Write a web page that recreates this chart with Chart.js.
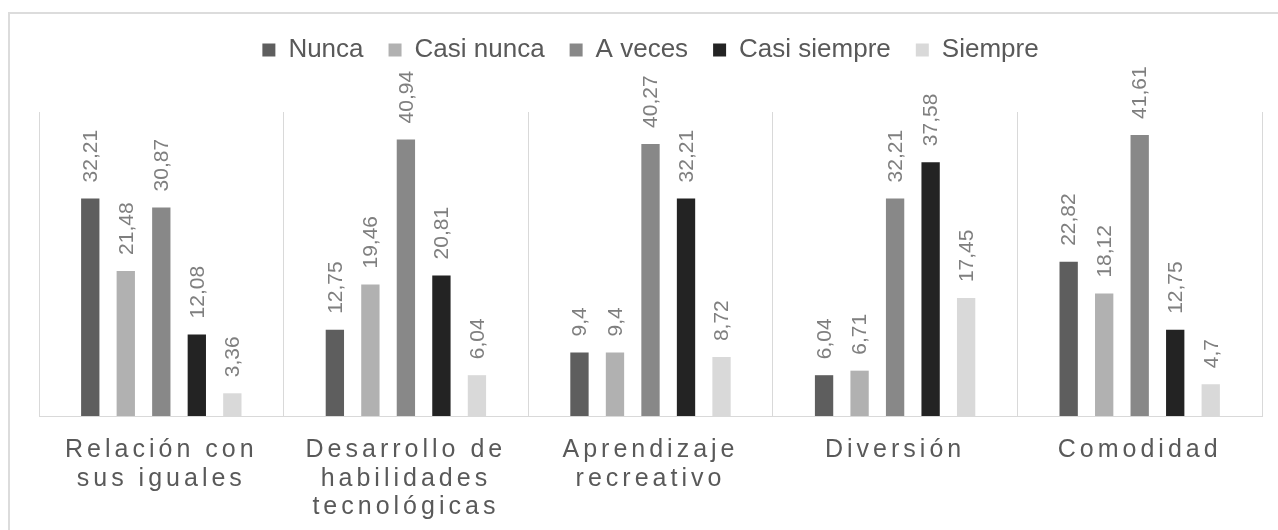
<!DOCTYPE html>
<html>
<head>
<meta charset="utf-8">
<script src="https://cdn.jsdelivr.net/npm/chart.js@4.4.1/dist/chart.umd.min.js"></script>
<style>
  html, body { margin: 0; padding: 0; background: #ffffff; overflow: hidden; }
  #frame { position: absolute; left: 8px; top: 12px; width: 3000px; height: 3000px;
           border: 2px solid #dcdcdc; box-sizing: border-box; }
  #wrap { position: absolute; left: 0; top: 0; width: 1278px; height: 530px; }
</style>
</head>
<body>
<div id="frame"></div>
<div id="wrap"><canvas id="c" width="1278" height="530"></canvas></div>
<script>
// ---- data ----
const categories = [
  ["Relación con", "sus iguales"],
  ["Desarrollo de", "habilidades", "tecnológicas"],
  ["Aprendizaje", "recreativo"],
  ["Diversión"],
  ["Comodidad"]
];
const seriesNames = ["Nunca", "Casi nunca", "A veces", "Casi siempre", "Siempre"];
const nunca       = [32.21, 12.75, 9.4, 6.04, 22.82];
const casiNunca   = [21.48, 19.46, 9.4, 6.71, 18.12];
const aVeces      = [30.87, 40.94, 40.27, 32.21, 41.61];
const casiSiempre = [12.08, 20.81, 32.21, 37.58, 12.75];
const siempre     = [3.36, 6.04, 8.72, 17.45, 4.7];
const seriesColors = ["#5e5e5e", "#b1b1b1", "#888888", "#232323", "#d9d9d9"];
const yMin = 0, yMax = 45;

const FONT = '"Liberation Sans", Arial, Helvetica, sans-serif';

// category scale with letter-spaced labels
class SpacedCategoryScale extends Chart.CategoryScale {
  drawLabels(area) {
    const ctx = this.ctx;
    ctx.save();
    ctx.letterSpacing = '4px';
    super.drawLabels(area);
    ctx.letterSpacing = '0px';
    ctx.restore();
  }
}
SpacedCategoryScale.id = 'spacedCategory';
SpacedCategoryScale.defaults = Chart.CategoryScale.defaults;
Chart.register(SpacedCategoryScale);

const legendGap = {
  id: 'legendGap',
  beforeInit(chart) {
    const orig = chart.legend.fit;
    chart.legend.fit = function () { orig.call(this); this.height += 39; };
  }
};

const barValueLabels = {
  id: 'barValueLabels',
  afterDatasetsDraw(chart) {
    const ctx = chart.ctx;
    ctx.save();
    ctx.font = '21px ' + FONT;
    ctx.fillStyle = '#7f7f7f';
    ctx.textAlign = 'left';
    ctx.textBaseline = 'middle';
    chart.data.datasets.forEach((ds, i) => {
      chart.getDatasetMeta(i).data.forEach((bar, j) => {
        const text = String(ds.data[j]).replace('.', ',');
        ctx.save();
        ctx.translate(bar.x, bar.y - 16);
        ctx.rotate(-Math.PI / 2);
        ctx.fillText(text, 0, 1);
        ctx.restore();
      });
    });
    ctx.restore();
  }
};

const allSeries = [nunca, casiNunca, aVeces, casiSiempre, siempre];

new Chart(document.getElementById('c'), {
  type: 'bar',
  data: {
    labels: categories,
    datasets: allSeries.map((d, i) => ({
      label: seriesNames[i],
      data: d,
      backgroundColor: seriesColors[i],
      borderWidth: 0,
      categoryPercentage: 0.726,
      barPercentage: 0.516
    }))
  },
  options: {
    responsive: false,
    animation: false,
    layout: { padding: { left: 39, right: 16, top: 12, bottom: 0 } },
    plugins: {
      legend: {
        position: 'top',
        labels: {
          color: '#595959',
          font: { family: FONT, size: 26 },
          boxWidth: 13,
          boxHeight: 13,
          padding: 25
        }
      },
      tooltip: { enabled: false }
    },
    scales: {
      x: {
        type: 'spacedCategory',
        offset: true,
        grid: { display: true, offset: true, color: '#d9d9d9', lineWidth: 1, drawTicks: false },
        border: { display: true, color: '#d9d9d9', width: 1 },
        ticks: {
          color: '#595959',
          font: { family: FONT, size: 25, lineHeight: 1.14 },
          padding: 20,
          maxRotation: 0,
          minRotation: 0,
          autoSkip: false
        },
        afterFit(scale) { scale.height = 114; }
      },
      y: {
        display: false,
        min: yMin,
        max: yMax
      }
    }
  },
  plugins: [legendGap, barValueLabels]
});
</script>
</body>
</html>
